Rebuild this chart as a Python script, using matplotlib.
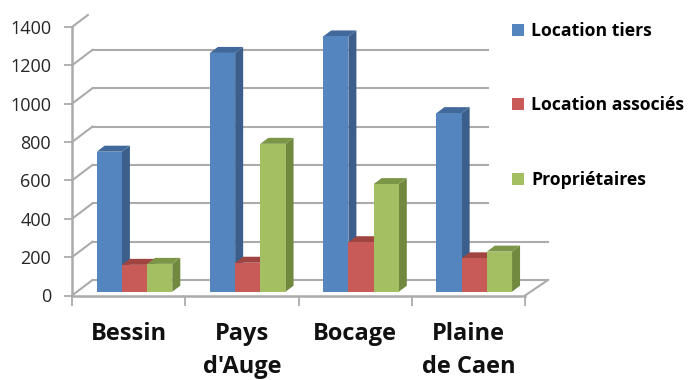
import matplotlib.pyplot as plt
from matplotlib.patches import Rectangle, Polygon
import numpy as np

plt.rcParams['font.family'] = ['Open Sans', 'DejaVu Sans']

categories = ['Bessin', 'Pays\nd\'Auge', 'Bocage', 'Plaine\nde Caen']
location_tiers = [730, 1245, 1331, 931]
location_associes = [140, 151, 258, 174]
proprietaires = [145, 771, 561, 209]
y_ticks = [0, 200, 400, 600, 800, 1000, 1200, 1400]
series_names = ['Location tiers', 'Location associés', 'Propriétaires']

face_colors = ['#5585BF', '#C85A58', '#A4BF62']
side_colors = ['#3B5F8A', '#96403E', '#71883F']
top_colors = ['#41699B', '#A04442', '#7C9648']
wall_color = '#ABABAB'

W, H = 689, 380
fig = plt.figure(figsize=(W / 100, H / 100), dpi=100)
# front plane of the floor: 453 px wide, 268 px tall
ax = fig.add_axes([72 / W, 1 - 295.5 / H, 453 / W, 268.5 / H])
ax.set_xlim(0, 4)
ax.set_ylim(0, 1400)
ax.patch.set_visible(False)
for s in ax.spines.values():
    s.set_visible(False)

px_x = 4 / 453
px_y = 1400 / 268.5

# depth of the wall and of each bar
wall_dx, wall_dy = 20.5 * px_x, 15.5 * px_y
wall_right = 4 + 23 * px_x
bar_dx, bar_dy = 8 * px_x, 6 * px_y
off_x, off_y = 5.6 * px_x, 3.8 * px_y
bar_w = 25.2 * px_x

# back wall and floor
for v in y_ticks:
    top = min(v + wall_dy, 1400 + 12 * px_y)
    end = wall_dx * (top - v) / wall_dy
    ax.plot([0, end], [v, top], color=wall_color, lw=1.5, clip_on=False, zorder=1)
    if v < 1400:
        ax.plot([wall_dx, wall_right], [v + wall_dy, v + wall_dy], color=wall_color,
                lw=1.5, clip_on=False, zorder=1)
ax.plot([0, 0], [0, 1400], color=wall_color, lw=1.8, clip_on=False, zorder=1)
ax.plot([0, 4], [0, 0], color=wall_color, lw=1.8, clip_on=False, zorder=1)
ax.plot([4, wall_right], [0, wall_dy], color=wall_color, lw=1.5, clip_on=False, zorder=1)

# the legend sits on a white panel that hides the right end of the upper gridlines
ax.add_patch(Rectangle((489 / W, 1 - 225 / H), 200 / W, 225 / H, transform=fig.transFigure,
                       facecolor='white', edgecolor='none', clip_on=False, zorder=1.5))

series = [location_tiers, location_associes, proprietaires]
group_x = np.arange(len(categories)) + 24.7 * px_x
for i, vals in enumerate(series):
    x = group_x + i * bar_w
    for j in range(len(categories)):
        z = 2 + j + i * 0.1
        x0, x1 = x[j], x[j] + bar_w
        v = vals[j]
        ax.add_patch(Polygon([(x1, off_y), (x1 + bar_dx, off_y + bar_dy),
                              (x1 + bar_dx, off_y + v + bar_dy), (x1, off_y + v)],
                             facecolor=side_colors[i], edgecolor='none', clip_on=False, zorder=z))
        ax.add_patch(Polygon([(x0, off_y + v), (x0 + bar_dx, off_y + v + bar_dy),
                              (x1 + bar_dx, off_y + v + bar_dy), (x1, off_y + v)],
                             facecolor=top_colors[i], edgecolor='none', clip_on=False, zorder=z))
        ax.bar(x0, v, bar_w, bottom=off_y, align='edge', color=face_colors[i], clip_on=False, zorder=z + 0.05)

ax.set_yticks(y_ticks)
ax.tick_params(axis='y', length=6, width=1.3, color=wall_color, labelsize=13, labelcolor='#262626', pad=9)
ax.set_xticks(range(5))
ax.set_xticklabels([])
ax.tick_params(axis='x', which='major', length=7, width=1.3, color=wall_color)
ax.set_xticks(np.arange(4) + 0.5, categories, minor=True)
ax.tick_params(axis='x', which='minor', length=0, pad=19, labelsize=17)
for t in ax.get_xticklabels(minor=True):
    t.set_fontweight('bold')
    t.set_linespacing(1.5)
    t.set_color('#111111')

handles = [Rectangle((0, 0), 1, 1, facecolor=c, edgecolor='none') for c in face_colors]
ax.legend(handles, series_names, loc='upper left', bbox_to_anchor=(512 / W, 1 - 22 / H),
          bbox_transform=fig.transFigure, frameon=False, handlelength=0.7, handleheight=0.7,
          handletextpad=0.4, labelspacing=3.2, borderpad=0, borderaxespad=0,
          prop={'weight': 'bold', 'size': 12.7})
ax.get_legend().set_zorder(10)

fig.savefig('out.png', dpi=100)
